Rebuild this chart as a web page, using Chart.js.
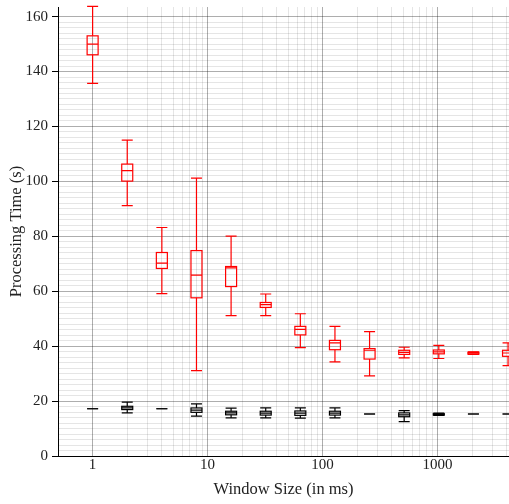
<!DOCTYPE html>
<html>
<head>
<meta charset="utf-8">
<script src="https://cdn.jsdelivr.net/npm/chart.js@4/dist/chart.umd.min.js"></script>
<style>
  html, body { margin: 0; padding: 0; background: #fff; }
  #wrap { width: 509px; height: 504px; }
</style>
</head>
<body>
<div id="wrap"><canvas id="chart1"></canvas></div>
<script>
// window sizes (ms)
var windowSizes = [1, 2, 4, 8, 16, 32, 64, 128, 256, 512, 1024, 2048, 4096];

// red series (box stats)
var redMin    = [135.7, 91.2, 59.1, 31.1, 51.1, 51.1, 39.5, 34.3, 29.2, 35.7, 35.5, 37.0, 32.9];
var redQ1     = [146.1, 100.1, 68.3, 57.6, 61.7, 54.1, 44.1, 38.7, 35.3, 37.0, 37.2, 37.1, 36.3];
var redMedian = [150.0, 103.9, 70.2, 65.9, 68.5, 55.1, 46.1, 41.2, 38.5, 37.7, 37.9, 37.5, 37.5];
var redQ3     = [153.0, 106.3, 74.1, 74.8, 69.0, 55.9, 47.2, 42.1, 39.1, 38.5, 38.6, 37.8, 38.5];
var redMax    = [163.7, 115.0, 83.2, 101.2, 80.1, 59.0, 51.8, 47.2, 45.3, 39.6, 40.3, 37.9, 41.2];

// black series (box stats)
var blackMin    = [17.2, 15.7, 17.2, 14.5, 13.9, 13.9, 13.8, 13.9, 15.3, 12.5, 14.8, 15.3, 15.3];
var blackQ1     = [17.2, 16.9, 17.2, 15.9, 15.0, 14.9, 14.8, 14.9, 15.3, 14.3, 14.9, 15.3, 15.3];
var blackMedian = [17.2, 17.5, 17.2, 16.7, 15.7, 15.6, 15.6, 15.6, 15.3, 15.0, 15.1, 15.3, 15.3];
var blackQ3     = [17.2, 18.1, 17.2, 17.5, 16.3, 16.3, 16.4, 16.3, 15.3, 15.7, 15.4, 15.3, 15.3];
var blackMax    = [17.2, 19.6, 17.2, 19.0, 17.4, 17.5, 17.5, 17.5, 15.3, 16.5, 15.6, 15.3, 15.3];

// tick labels
var xTickLabels = [1, 10, 100, 1000];
var yTickLabels = [0, 20, 40, 60, 80, 100, 120, 140, 160];

var fontFamily = '"Liberation Serif", "DejaVu Serif", serif';

function boxData(min, q1, med, q3, max) {
	return windowSizes.map(function(x, i) {
		return { x: x, y: med[i], min: min[i], q1: q1[i], med: med[i], q3: q3[i], max: max[i] };
	});
}

function isMajorX(v) {
	return xTickLabels.indexOf(v) !== -1;
}

// draws the box plots from dataset points through the chart scales
var boxPlugin = {
	id: 'boxes',
	afterDatasetsDraw: function(chart) {
		var ctx = chart.ctx;
		var xs = chart.scales.x, ys = chart.scales.y;
		var area = chart.chartArea;
		var half = 5.5;
		ctx.save();
		ctx.beginPath();
		ctx.rect(area.left, area.top - 2, area.right - area.left, area.bottom - area.top + 2);
		ctx.clip();
		chart.data.datasets.forEach(function(ds) {
			ctx.strokeStyle = ds.borderColor;
			ctx.lineWidth = 1.2;
			ds.data.forEach(function(d) {
				var px = xs.getPixelForValue(d.x);
				var yMin = ys.getPixelForValue(d.min), yQ1 = ys.getPixelForValue(d.q1);
				var yMed = ys.getPixelForValue(d.med), yQ3 = ys.getPixelForValue(d.q3);
				var yMax = ys.getPixelForValue(d.max);
				ctx.beginPath();
				// whiskers
				ctx.moveTo(px, yMax); ctx.lineTo(px, yQ3);
				ctx.moveTo(px, yQ1); ctx.lineTo(px, yMin);
				// caps
				ctx.moveTo(px - half, yMax); ctx.lineTo(px + half, yMax);
				ctx.moveTo(px - half, yMin); ctx.lineTo(px + half, yMin);
				// median
				ctx.moveTo(px - half, yMed); ctx.lineTo(px + half, yMed);
				ctx.stroke();
				ctx.strokeRect(px - half, yQ3, half * 2, yQ1 - yQ3);
			});
		});
		ctx.restore();
	}
};

var ctx = document.getElementById('chart1').getContext('2d');
var chart1 = new Chart(ctx, {
	type: 'scatter',
	data: {
		datasets: [{
			label: 'red',
			borderColor: '#ff0000',
			backgroundColor: '#ff0000',
			pointRadius: 0,
			data: boxData(redMin, redQ1, redMedian, redQ3, redMax)
		}, {
			label: 'black',
			borderColor: '#000000',
			backgroundColor: '#000000',
			pointRadius: 0,
			data: boxData(blackMin, blackQ1, blackMedian, blackQ3, blackMax)
		}]
	},
	options: {
		responsive: true,
		maintainAspectRatio: false,
		animation: false,
		layout: { padding: { top: 7, right: 0, left: 0, bottom: 0 } },
		plugins: {
			legend: { display: false },
			tooltip: { enabled: false }
		},
		scales: {
			x: {
				type: 'logarithmic',
				min: 0.5,
				max: 4175,
				afterBuildTicks: function(scale) {
					var ticks = [];
					for (var p = 1; p <= 1000; p *= 10) {
						for (var m = 1; m <= 9; m++) {
							if (m * p <= 4175) ticks.push({ value: m * p });
						}
					}
					scale.ticks = ticks;
				},
				afterFit: function(scale) {
					scale.height = 48;
					scale.paddingLeft = 0;
					scale.paddingRight = 0;
				},
				border: { display: true, color: '#000', width: 1 },
				grid: {
					drawTicks: false,
					color: function(c) {
						if (!c.tick) return 'transparent';
						return isMajorX(c.tick.value) ? 'rgba(0,0,0,0.32)' : 'rgba(0,0,0,0.1)';
					},
					lineWidth: 1
				},
				ticks: {
					autoSkip: false,
					maxRotation: 0,
					padding: 0,
					color: '#222',
					font: { family: fontFamily, size: 15 },
					callback: function(v) { return isMajorX(v) ? String(v) : ''; }
				},
				title: {
					display: true,
					text: 'Window Size (in ms)',
					color: '#222',
					font: { family: fontFamily, size: 16.5 },
					padding: { top: 0, bottom: 4 }
				}
			},
			y: {
				type: 'linear',
				min: 0,
				max: 163.5,
				afterBuildTicks: function(scale) {
					scale.ticks = scale.ticks.filter(function(t) { return t.value % 2 === 0; });
				},
				afterFit: function(scale) {
					scale.width = 58;
					scale.paddingTop = 0;
					scale.paddingBottom = 0;
				},
				border: { display: true, color: '#000', width: 1 },
				grid: {
					tickLength: 6,
					color: function(c) {
						if (!c.tick) return 'transparent';
						return yTickLabels.indexOf(c.tick.value) !== -1 ? 'rgba(0,0,0,0.32)' : 'rgba(0,0,0,0.1)';
					},
					tickColor: function(c) {
						if (!c.tick) return 'transparent';
						return yTickLabels.indexOf(c.tick.value) !== -1 ? '#000' : 'transparent';
					},
					lineWidth: 1
				},
				ticks: {
					stepSize: 2,
					autoSkip: false,
					padding: 4,
					color: '#222',
					font: { family: fontFamily, size: 15 },
					callback: function(v) { return yTickLabels.indexOf(v) !== -1 ? String(v) : ''; }
				},
				title: {
					display: true,
					text: 'Processing Time (s)',
					color: '#222',
					font: { family: fontFamily, size: 16.5 },
					padding: { top: 7, bottom: 0 }
				}
			}
		}
	},
	plugins: [boxPlugin]
});
</script>
</body>
</html>
